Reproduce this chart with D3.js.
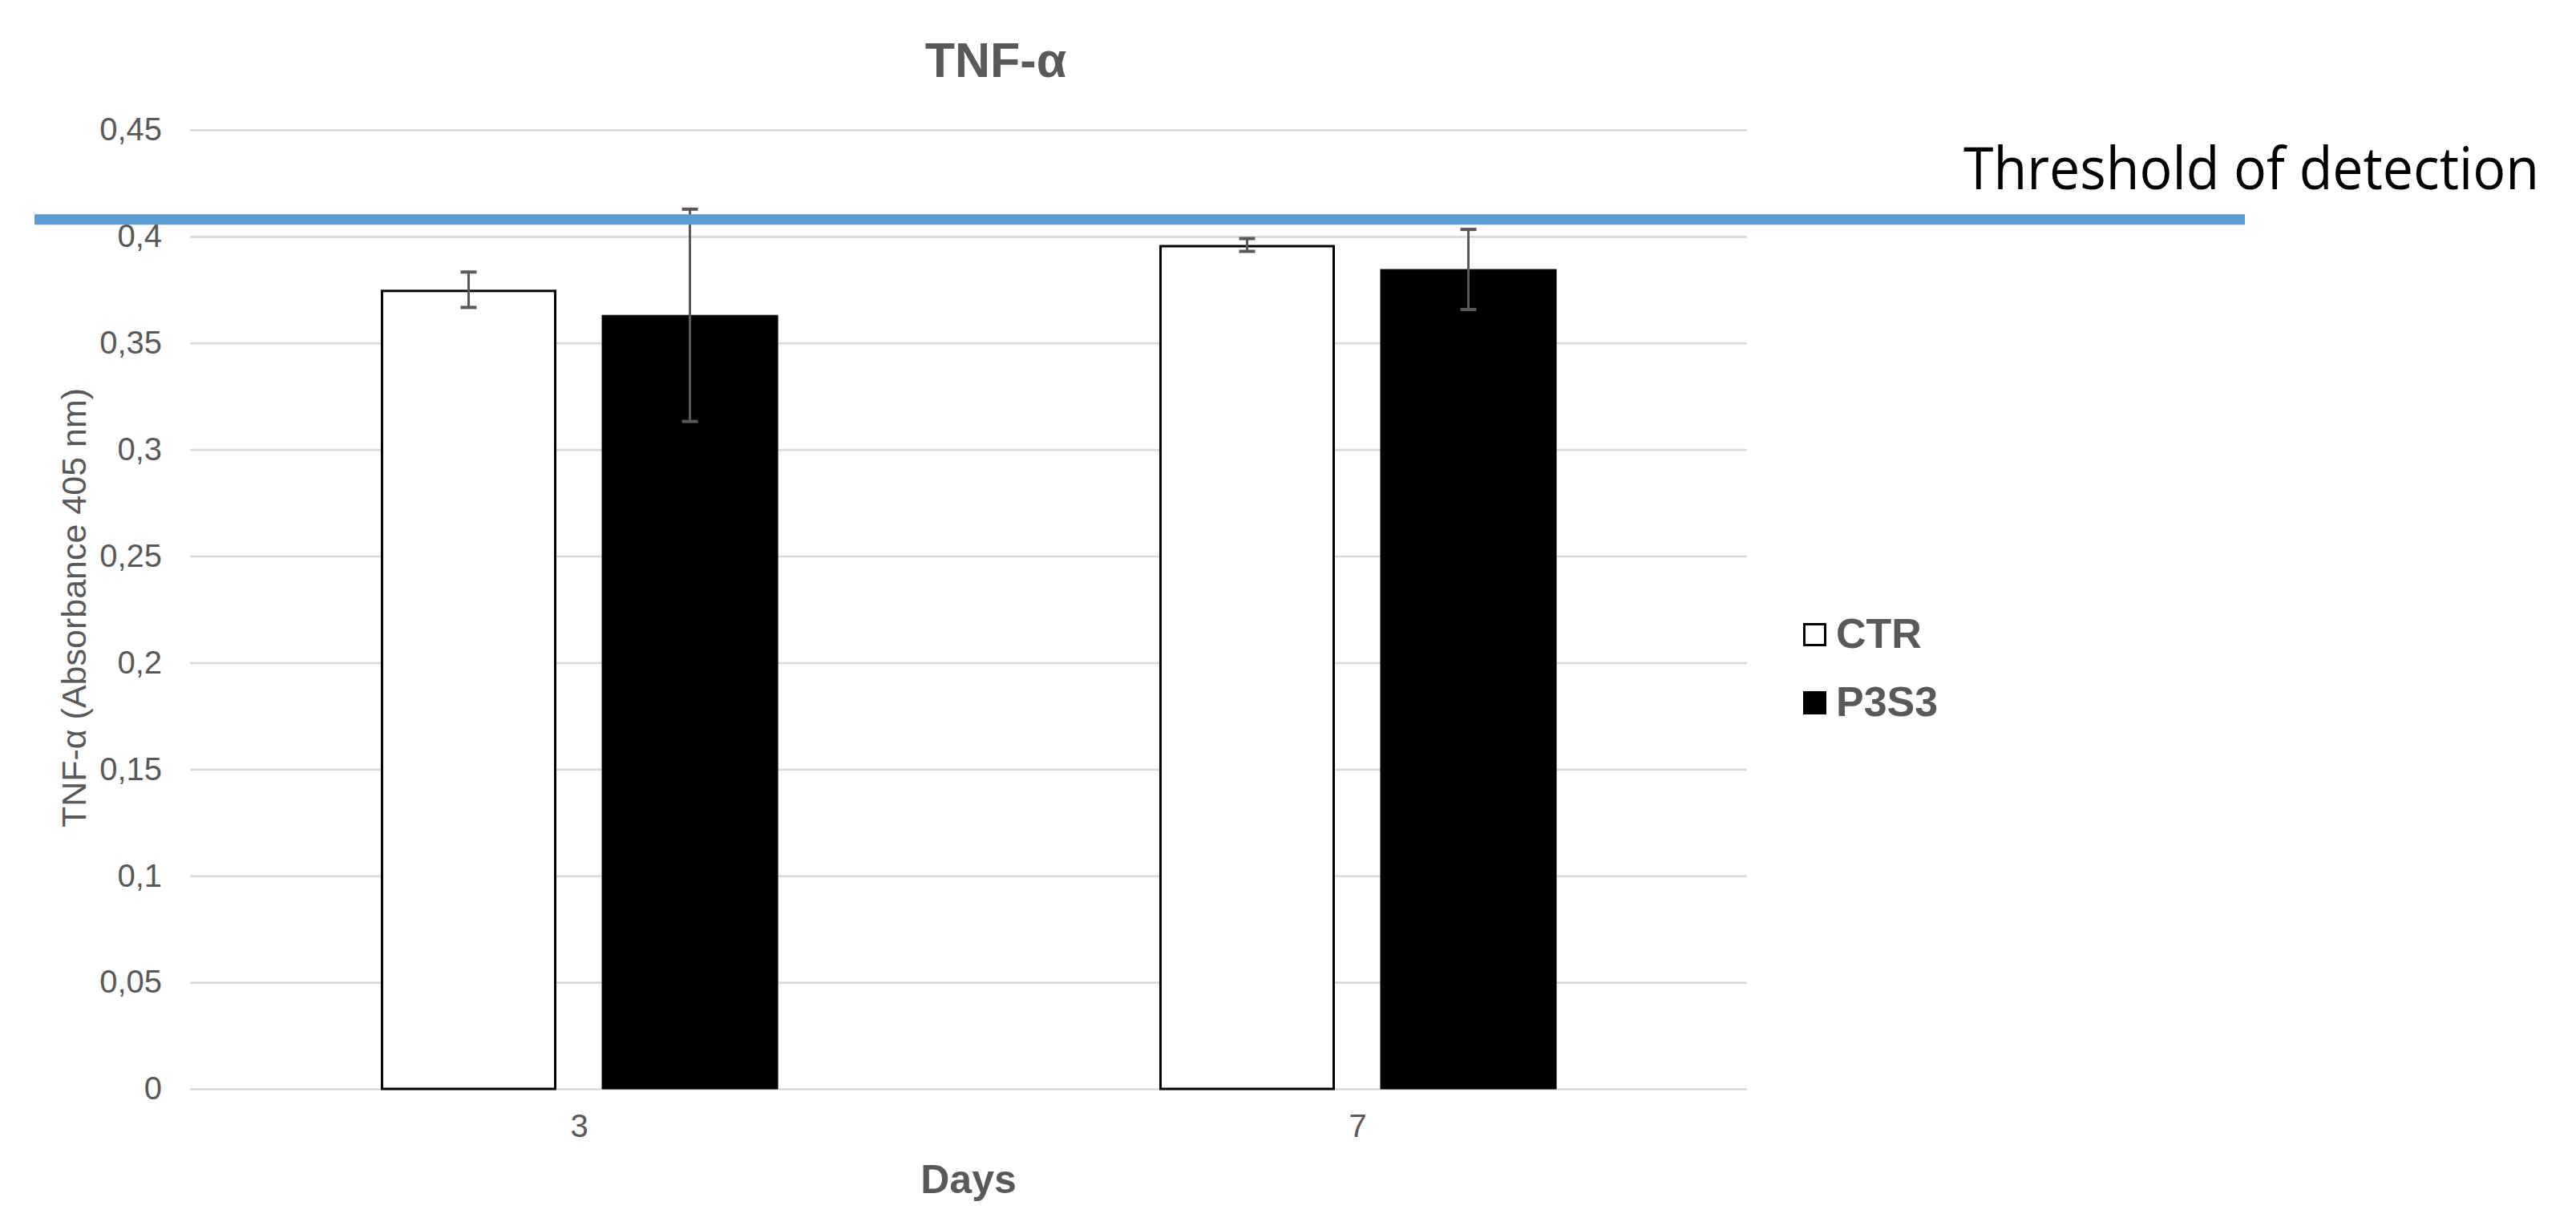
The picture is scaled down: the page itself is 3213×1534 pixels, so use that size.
<!DOCTYPE html>
<html>
<head>
<meta charset="utf-8">
<script src="https://cdn.jsdelivr.net/npm/d3@7"></script>
<style>
  html, body { margin: 0; padding: 0; background: #fff; }
  svg { display: block; }
</style>
</head>
<body>
<script>
// ---- Data ----
const categories = ["3", "7"];
const seriesNames = ["CTR", "P3S3"];
const ctrValues = [0.375, 0.396];
const ctrErrors = [0.0083, 0.003];
const p3s3Values = [0.363, 0.3845];
const p3s3Errors = [0.0498, 0.0188];
const yTicks = [0, 0.05, 0.1, 0.15, 0.2, 0.25, 0.3, 0.35, 0.4, 0.45];
const yTickLabels = ["0", "0,05", "0,1", "0,15", "0,2", "0,25", "0,3", "0,35", "0,4", "0,45"];
const thresholdValue = 0.408;
const titleText = "TNF-α";
const xTitle = "Days";
const yTitle = "TNF-α (Absorbance 405 nm)";
const thresholdLabel = "Threshold of detection";

// ---- Layout ----
const W = 3213, H = 1534;
const plot = { left: 237, right: 2179, top: 162, bottom: 1358 };
const gray = "#595959";

const svg = d3.select("body").append("svg")
  .attr("width", W).attr("height", H)
  .attr("viewBox", `0 0 ${W} ${H}`);

const y = d3.scaleLinear().domain([0, 0.45]).range([plot.bottom, plot.top]);
const x0 = d3.scaleBand().domain(categories).range([plot.left, plot.right]).padding(0);
const x1 = d3.scaleBand().domain(seriesNames).range([0, x0.bandwidth()])
  .paddingInner(0.2065).paddingOuter(0.862);

// gridlines
const grid = svg.append("g").attr("transform", `translate(${plot.left},0)`)
  .call(d3.axisLeft(y).tickValues(yTicks).tickSize(-(plot.right - plot.left)).tickFormat(""));
grid.select(".domain").remove();
grid.selectAll("line").attr("stroke", "#d9d9d9").attr("stroke-width", 2.6);

// y axis labels
const yAxis = svg.append("g").attr("transform", `translate(${plot.left},0)`)
  .call(d3.axisLeft(y).tickValues(yTicks).tickSize(0).tickPadding(35)
    .tickFormat((d, i) => yTickLabels[i]));
yAxis.select(".domain").remove();
yAxis.selectAll("text").attr("fill", gray)
  .style("font-family", "'Liberation Sans', Arial, sans-serif").style("font-size", "40px");

// x axis labels
const xAxis = svg.append("g").attr("transform", `translate(0,${plot.bottom})`)
  .call(d3.axisBottom(x0).tickSize(0).tickPadding(32));
xAxis.select(".domain").remove();
xAxis.selectAll("text").attr("fill", gray)
  .style("font-family", "'Liberation Sans', Arial, sans-serif").style("font-size", "40px");

// data table
const rows = categories.map((c, i) => ({
  cat: c,
  vals: [
    { s: "CTR", v: ctrValues[i], e: ctrErrors[i] },
    { s: "P3S3", v: p3s3Values[i], e: p3s3Errors[i] }
  ]
}));

const fills = { CTR: "#ffffff", P3S3: "#000000" };

const groups = svg.append("g").selectAll("g").data(rows).join("g")
  .attr("transform", d => `translate(${x0(d.cat)},0)`);

groups.selectAll("rect").data(d => d.vals).join("rect")
  .attr("x", d => x1(d.s) + (d.s === "CTR" ? 1.5 : 0))
  .attr("width", d => x1.bandwidth() - (d.s === "CTR" ? 3 : 0))
  .attr("y", d => y(d.v) + (d.s === "CTR" ? 1.5 : 0))
  .attr("height", d => y(0) - y(d.v) - (d.s === "CTR" ? 1.5 : 0))
  .attr("fill", d => fills[d.s])
  .attr("stroke", "#000")
  .attr("stroke-width", d => d.s === "CTR" ? 3 : 1);

// threshold line
svg.append("line")
  .attr("x1", 43).attr("x2", 2800)
  .attr("y1", y(thresholdValue)).attr("y2", y(thresholdValue))
  .attr("stroke", "#5b9bd5").attr("stroke-width", 13);

// error bars
const eb = groups.selectAll("g.err").data(d => d.vals).join("g").attr("class", "err")
  .attr("stroke", gray).attr("stroke-width", 3);
eb.append("line")
  .attr("x1", d => x1(d.s) + x1.bandwidth() / 2).attr("x2", d => x1(d.s) + x1.bandwidth() / 2)
  .attr("y1", d => y(d.v + d.e)).attr("y2", d => y(d.v - d.e));
eb.append("line")
  .attr("x1", d => x1(d.s) + x1.bandwidth() / 2 - 10).attr("x2", d => x1(d.s) + x1.bandwidth() / 2 + 10)
  .attr("y1", d => y(d.v + d.e)).attr("y2", d => y(d.v + d.e)).attr("stroke-width", 4);
eb.append("line")
  .attr("x1", d => x1(d.s) + x1.bandwidth() / 2 - 10).attr("x2", d => x1(d.s) + x1.bandwidth() / 2 + 10)
  .attr("y1", d => y(d.v - d.e)).attr("y2", d => y(d.v - d.e)).attr("stroke-width", 4);

// title
svg.append("text").text(titleText)
  .attr("x", 1242).attr("y", 96).attr("text-anchor", "middle")
  .attr("fill", gray).style("font-family", "'Liberation Sans', Arial, sans-serif")
  .style("font-size", "61px").style("font-weight", "bold");

// x title
svg.append("text").text(xTitle)
  .attr("x", (plot.left + plot.right) / 2).attr("y", 1488).attr("text-anchor", "middle")
  .attr("fill", gray).style("font-family", "'Liberation Sans', Arial, sans-serif")
  .style("font-size", "50px").style("font-weight", "bold");

// y title
svg.append("text").text(yTitle)
  .attr("transform", `translate(107,${(plot.top + plot.bottom) / 2 - 2}) rotate(-90)`)
  .attr("text-anchor", "middle")
  .attr("fill", gray).style("font-family", "'Liberation Sans', Arial, sans-serif")
  .style("font-size", "43px");

// legend
const legend = svg.append("g").selectAll("g").data(seriesNames).join("g")
  .attr("transform", (d, i) => `translate(2249,${777 + i * 85})`);
legend.append("rect")
  .attr("x", d => d === "CTR" ? 1.5 : 0).attr("y", d => d === "CTR" ? 1.5 : 0)
  .attr("width", d => d === "CTR" ? 26 : 29).attr("height", d => d === "CTR" ? 26 : 29)
  .attr("fill", d => fills[d]).attr("stroke", "#000").attr("stroke-width", d => d === "CTR" ? 3 : 0);
legend.append("text").text(d => d)
  .attr("x", 41).attr("y", 31)
  .attr("fill", gray).style("font-family", "'Liberation Sans', Arial, sans-serif")
  .style("font-size", "52px").style("font-weight", "bold");

// threshold label (condensed horizontally to match the narrower original face)
const thr = svg.append("text").text(thresholdLabel)
  .attr("x", 0).attr("y", 0)
  .attr("fill", "#000").style("font-family", "'Open Sans', 'Noto Sans', sans-serif")
  .style("font-size", "74px");
const natural = thr.node().getComputedTextLength();
const sx = 718 / natural;
thr.attr("transform", `translate(2449,236) scale(${sx},1)`);
</script>
</body>
</html>
